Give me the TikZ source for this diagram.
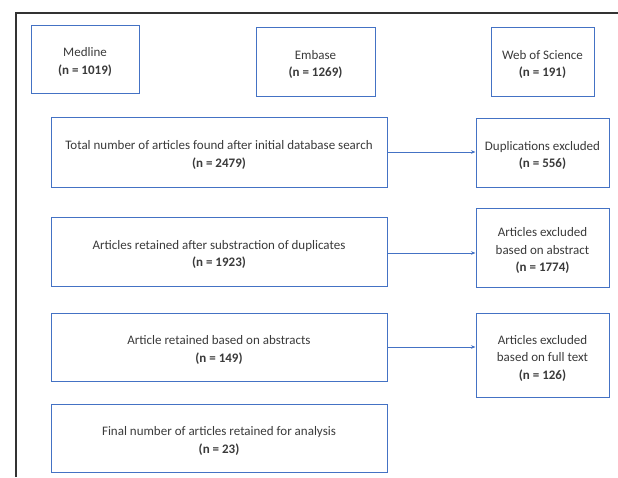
\documentclass[tikz,border=0pt]{standalone}
\usepackage{fontspec}
\setmainfont{Carlito}
\usetikzlibrary{arrows.meta}
\definecolor{boxblue}{HTML}{4472C4}
\definecolor{txt}{HTML}{3A3A3A}
\begin{document}
\begin{tikzpicture}[x=1pt,y=-1pt,
  box/.style={draw=boxblue,line width=1pt,rectangle,inner sep=0pt},
  lbl/.style={inner sep=0pt,align=center,text=txt,font=\fontsize{13}{17.5}\selectfont,yshift=-3pt},
  conn/.style={draw=boxblue,line width=0.7pt,-{Stealth[length=4.5pt,width=3.5pt]}}]
\useasboundingbox (0,0) rectangle (618,477);
\draw[line width=1.5pt,black!80] (16,477) -- (16,13) -- (618,13);
\node[box,minimum width=108,minimum height=68] (med) at (85,59) {};
\node[lbl] (medT) at (med.center) {Medline\\\textbf{(n = 1019)}};
\node[box,minimum width=119,minimum height=69] (emb) at (315.5,61.5) {};
\node[lbl] (embT) at (emb.center) {Embase\\\textbf{(n = 1269)}};
\node[box,minimum width=103,minimum height=69] (wos) at (542.5,61.5) {};
\node[lbl] (wosT) at (wos.center) {Web of Science\\\textbf{(n = 191)}};
\node[box,minimum width=336,minimum height=70] (tot) at (219,152) {};
\node[lbl] (totT) at (tot.center) {Total number of articles found after initial database search\\\textbf{(n = 2479)}};
\node[box,minimum width=133,minimum height=69] (dup) at (542.5,152.5) {};
\node[lbl] (dupT) at (dup.center) {Duplications excluded\\\textbf{(n = 556)}};
\node[box,minimum width=336,minimum height=69] (ret) at (219,251.5) {};
\node[lbl] (retT) at (ret.center) {Articles retained after substraction of duplicates\\\textbf{(n = 1923)}};
\node[box,minimum width=133,minimum height=79] (abs) at (542.5,247.5) {};
\node[lbl] (absT) at (abs.center) {Articles excluded\\based on abstract\\\textbf{(n = 1774)}};
\node[box,minimum width=336,minimum height=68] (ab) at (219,347) {};
\node[lbl] (abT) at (ab.center) {Article retained based on abstracts\\\textbf{(n = 149)}};
\node[box,minimum width=133,minimum height=84] (ft) at (542.5,355) {};
\node[lbl] (ftT) at (ft.center) {Articles excluded\\based on full text\\\textbf{(n = 126)}};
\node[box,minimum width=336,minimum height=68] (fin) at (219,438) {};
\node[lbl] (finT) at (fin.center) {Final number of articles retained for analysis\\\textbf{(n = 23)}};
\draw[conn] (tot.east) -- (tot.east -| dup.west);
\draw[conn] ([yshift=-1.5]ret.east) -- ([yshift=-1.5]ret.east -| abs.west);
\draw[conn] (ab.east) -- (ab.east -| ft.west);
\end{tikzpicture}
\end{document}
